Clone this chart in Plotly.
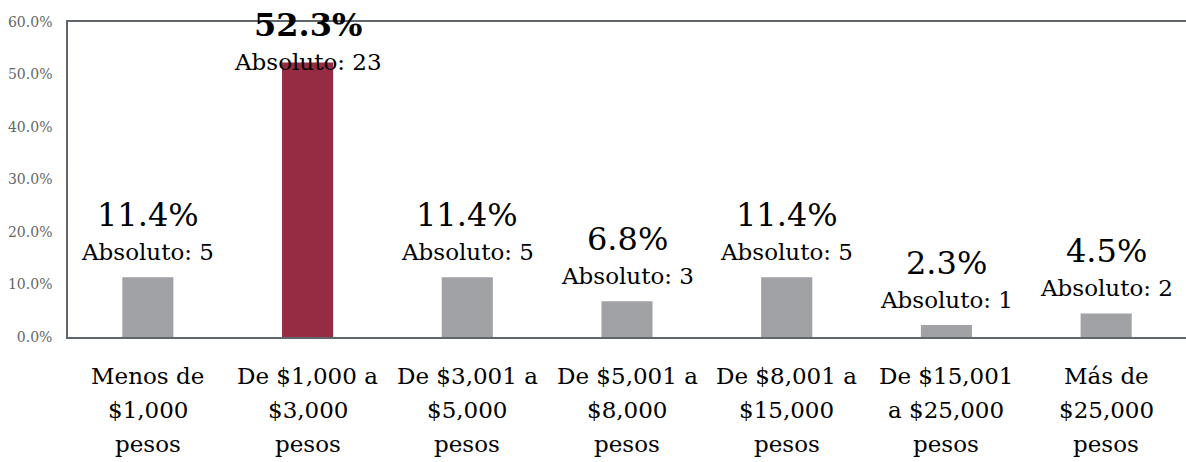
import plotly.graph_objects as go

categories = ["Menos de<br>$1,000<br>pesos", "De $1,000 a<br>$3,000<br>pesos",
              "De $3,001 a<br>$5,000<br>pesos", "De $5,001 a<br>$8,000<br>pesos",
              "De $8,001 a<br>$15,000<br>pesos", "De $15,001<br>a $25,000<br>pesos",
              "Más de<br>$25,000<br>pesos"]
percent = [11.4, 52.3, 11.4, 6.8, 11.4, 2.3, 4.5]
absolute = [5, 23, 5, 3, 5, 1, 2]
y_ticks = [0, 10, 20, 30, 40, 50, 60]
highlight_index = 1

GRAY = "#A0A2A5"
MAROON = "#952C43"
AXIS = "#61666D"
FONT = "DejaVu Serif"

colors = [MAROON if i == highlight_index else GRAY for i in range(len(percent))]
x = list(range(len(categories)))

fig = go.Figure(go.Bar(x=x, y=percent, marker=dict(color=colors, line=dict(width=0)),
                       width=0.32, hoverinfo="skip"))

annotations = []
for i, (p, a) in enumerate(zip(percent, absolute)):
    base = 10
    if p > 45:
        base = -15
    annotations.append(dict(x=i, y=p, xref="x", yref="y", text=f"Absoluto: {a}",
                            showarrow=False, yanchor="bottom", yshift=base,
                            font=dict(family=FONT, size=23, color="#000000")))
    annotations.append(dict(x=i, y=p, xref="x", yref="y",
                            text=(f"<b>{p:.1f}%</b>" if i == highlight_index else f"{p:.1f}%"),
                            showarrow=False, yanchor="bottom", yshift=base + 31,
                            font=dict(family=FONT, size=32, color="#000000")))

# category labels, one annotation per line for Excel-like line spacing
for i, cat in enumerate(categories):
    for j, line in enumerate(cat.split("<br>")):
        annotations.append(dict(x=i, y=0, xref="x", yref="paper", text=line,
                                showarrow=False, yanchor="top", yshift=-24 - 34 * j,
                                font=dict(family=FONT, size=23, color="#000000")))

fig.update_layout(
    width=1186, height=462,
    margin=dict(l=68, r=0, t=22, b=125),
    plot_bgcolor="white", paper_bgcolor="white",
    showlegend=False,
    annotations=annotations,
    xaxis=dict(range=[-0.5, 6.5], showticklabels=False,
               showline=True, linecolor=AXIS, linewidth=1.5, mirror=True,
               showgrid=False, zeroline=False, ticks=""),
    yaxis=dict(range=[0, 60], tickvals=y_ticks,
               ticktext=[f"{v:.1f}%" for v in y_ticks],
               showline=True, linecolor=AXIS, linewidth=1.5,
               showgrid=False, zeroline=False, ticks="", ticklabelstandoff=11,
               tickfont=dict(family=FONT, size=14, color="#666666")),
)

fig.write_html("out.html", config={"displayModeBar": False},
               post_script="document.body.style.margin='0';document.body.style.overflow='hidden';")
